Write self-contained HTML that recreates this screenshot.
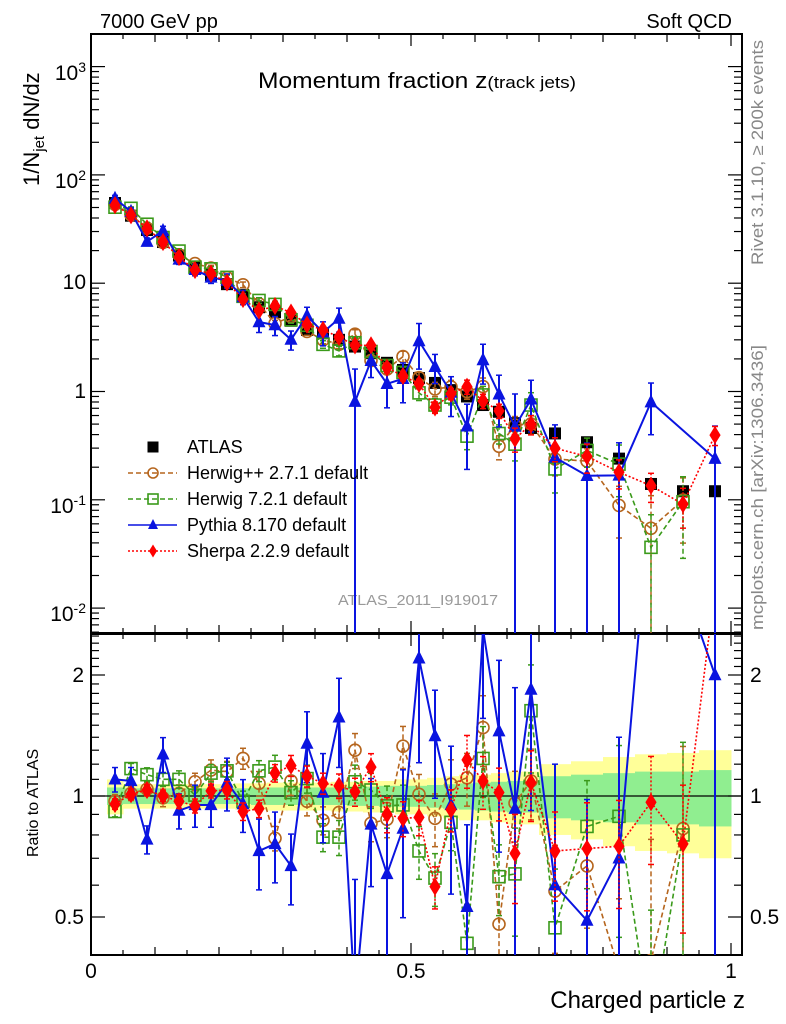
<!DOCTYPE html>
<html><head><meta charset="utf-8"><style>
html,body{margin:0;padding:0;background:#fff;overflow:hidden;width:786px;height:1024px;}
svg{display:block;font-family:"Liberation Sans",Arial,sans-serif;}
</style></head><body>
<svg id="chart" width="786" height="1024" viewBox="0 0 786 1024" xmlns="http://www.w3.org/2000/svg">
<defs>
<clipPath id="clipMain"><rect x="91" y="34" width="651" height="599"/></clipPath>
<clipPath id="clipRatio"><rect x="91" y="634" width="651" height="321"/></clipPath>
</defs>
<text x="100" y="28" font-size="20">7000 GeV pp</text>
<text x="732" y="28" font-size="20" text-anchor="end">Soft QCD</text>
<text x="258" y="88" font-size="22" textLength="318" lengthAdjust="spacingAndGlyphs">Momentum fraction z<tspan font-size="17">(track jets)</tspan></text>
<text x="338" y="605" font-size="15" fill="#999" textLength="160" lengthAdjust="spacingAndGlyphs">ATLAS_2011_I919017</text>
<text transform="translate(763,265) rotate(-90)" font-size="17" fill="#888" textLength="225" lengthAdjust="spacingAndGlyphs">Rivet 3.1.10, ≥ 200k events</text>
<text transform="translate(763,630) rotate(-90)" font-size="17" fill="#888" textLength="285" lengthAdjust="spacingAndGlyphs">mcplots.cern.ch [arXiv:1306.3436]</text>
<text transform="translate(39,186) rotate(-90)" font-size="22">1/N<tspan font-size="15" dy="5">jet</tspan><tspan dy="-5"> dN/dz</tspan></text>
<text transform="translate(38,857) rotate(-90)" font-size="16">Ratio to ATLAS</text>
<text x="745" y="1008" font-size="24" text-anchor="end">Charged particle z</text>
<g id="layer"></g>
</svg>
<script>
// ---- data ----
const zCenters=[0.0375,0.0625,0.0875,0.1125,0.1375,0.1625,0.1875,0.2125,0.2375,0.2625,0.2875,0.3125,0.3375,0.3625,0.3875,0.4125,0.4375,0.4625,0.4875,0.5125,0.5375,0.5625,0.5875,0.6125,0.6375,0.6625,0.6875,0.725,0.775,0.825,0.875,0.925,0.975];
const binHalf=[0.0125,0.0125,0.0125,0.0125,0.0125,0.0125,0.0125,0.0125,0.0125,0.0125,0.0125,0.0125,0.0125,0.0125,0.0125,0.0125,0.0125,0.0125,0.0125,0.0125,0.0125,0.0125,0.0125,0.0125,0.0125,0.0125,0.0125,0.025,0.025,0.025,0.025,0.025,0.025];
const atlasVals=[55,42,31,24,18,14,11.9,9.8,7.8,6.0,5.4,4.5,3.7,3.45,3.0,2.6,2.26,1.84,1.58,1.33,1.2,1.03,0.9,0.75,0.65,0.51,0.46,0.41,0.34,0.24,0.14,0.12,0.12];
const bandStat=[0.05,0.045,0.045,0.045,0.045,0.045,0.045,0.045,0.045,0.05,0.05,0.05,0.05,0.05,0.05,0.055,0.055,0.06,0.06,0.06,0.065,0.07,0.075,0.08,0.085,0.09,0.09,0.12,0.13,0.14,0.15,0.15,0.16];
const bandTot=[0.1,0.07,0.07,0.07,0.07,0.07,0.07,0.07,0.075,0.075,0.08,0.08,0.08,0.08,0.085,0.085,0.09,0.09,0.1,0.1,0.11,0.12,0.13,0.13,0.14,0.15,0.15,0.2,0.22,0.25,0.27,0.28,0.3];
const herwigppRatio=[0.97,1.015,1.04,0.99,1.015,1.085,1.16,1.15,1.24,1.075,0.785,1.09,0.97,0.87,0.91,1.30,0.855,0.875,1.33,1.01,0.88,1.07,1.11,1.48,0.48,0.96,1.09,0.58,0.67,0.37,0.39,0.83,null];
const herwigppErr=[0.04,0.04,0.04,0.05,0.05,0.05,0.06,0.06,0.06,0.07,0.07,0.08,0.08,0.08,0.09,0.1,0.1,0.1,0.12,0.12,0.15,0.15,0.15,0.2,0.25,0.2,0.2,0.3,0.3,0.5,1,0.6,0];
const herwig7Ratio=[0.915,1.17,1.13,1.10,1.10,1.005,1.14,1.155,0.97,1.155,1.18,1.02,1.105,0.79,0.79,1.085,1.035,0.945,0.95,0.73,0.625,0.86,0.43,1.24,0.63,0.64,1.63,0.47,0.84,0.89,0.26,0.80,null];
const herwig7Err=[0.03,0.03,0.04,0.04,0.05,0.05,0.05,0.05,0.06,0.06,0.07,0.07,0.08,0.08,0.1,0.1,0.1,0.12,0.12,0.15,0.15,0.15,0.25,0.2,0.2,0.3,0.3,0.4,0.3,0.5,1,0.7,0];
const pythiaRatio=[1.10,1.09,0.78,1.27,0.92,0.95,0.95,1.08,0.955,0.73,0.76,0.67,1.35,1.02,1.57,0.31,0.85,0.64,0.83,2.2,1.41,0.95,0.53,2.6,1.45,0.93,1.84,0.6,0.49,0.7,5.7,null,2.0];
const pythiaErr=[0.07,0.08,0.08,0.1,0.1,0.12,0.12,0.15,0.15,0.2,0.2,0.2,0.2,0.25,0.25,1,0.3,0.4,0.4,0.45,0.3,0.4,0.6,0.4,0.5,1,0.5,1,1,1,0.5,0,1];
const sherpaRatio=[0.955,1.01,1.035,1.0,0.97,0.945,1.03,1.035,0.915,0.93,1.14,1.19,1.12,1.075,1.06,1.025,1.18,0.9,0.88,0.885,0.595,0.925,1.23,1.09,1.02,0.72,1.08,0.73,0.74,0.75,0.965,0.76,3.3];
const sherpaErr=[0.03,0.03,0.03,0.03,0.04,0.04,0.04,0.05,0.05,0.05,0.05,0.06,0.06,0.06,0.07,0.08,0.08,0.1,0.1,0.1,0.12,0.12,0.15,0.15,0.15,0.25,0.2,0.25,0.3,0.3,0.3,0.4,0.2];
const xTickMajor=[0,0.5,1];
const xTickLabels=["0","0.5","1"];
const yDecades=[0.01,0.1,1,10,100,1000];
const yDecadeLabels=["10<sup>-2</sup>","10<sup>-1</sup>","1","10","10<sup>2</sup>","10<sup>3</sup>"];
const ratioTickLabels=[0.5,1,2];

const NS="http://www.w3.org/2000/svg";
const layer=document.getElementById('layer');
function xs(z){return 91+640*z;}
function ym(v){return 391.5-108.3*Math.log10(v);}
function yr(r){return 796-121*Math.log2(r);}
function clampY(y,panel){return panel==='main'?Math.max(30,Math.min(636,y)):Math.max(630,Math.min(958,y));}
function el(tag,attrs,parent){const e=document.createElementNS(NS,tag);for(const k in attrs)e.setAttribute(k,attrs[k]);(parent||layer).appendChild(e);return e;}

const bands=el('g',{});


zCenters.forEach((z,i)=>{
  const x0=xs(z-binHalf[i]),x1=xs(z+binHalf[i]);
  const r=el('rect',{x:x0,y:yr(1+bandTot[i]),width:x1-x0+0.5,height:yr(1-bandTot[i])-yr(1+bandTot[i]),fill:'#ffff99'},bands);
  
  
  const g=el('rect',{x:x0,y:yr(1+bandStat[i]),width:x1-x0+0.5,height:yr(1-bandStat[i])-yr(1+bandStat[i]),fill:'#90ee90'},bands);
  
  
});
const one=el('line',{x1:91,x2:742,y1:yr(1),y2:yr(1),stroke:'#000','stroke-width':1.2});



const fm=el('rect',{x:91,y:34,width:651,height:599,fill:'none',stroke:'#000','stroke-width':2});


const fr=el('rect',{x:91,y:634,width:651,height:321,fill:'none',stroke:'#000','stroke-width':2});



const ticks=el('g',{stroke:'#000','stroke-width':1.2});


for(let k=0;k<=20;k++){
  const z=k*0.05,x=xs(z);
  const len=(k%10===0)?12:(k%2===0?8:5);
  [34,634].forEach(y=>el('line',{x1:x,x2:x,y1:y,y2:y+len},ticks));
  [633,955].forEach(y=>el('line',{x1:x,x2:x,y1:y,y2:y-len},ticks));
}
xTickMajor.forEach((z,i)=>{
  const t=el('text',{x:xs(z),y:978,'font-size':21,'text-anchor':'middle'});
  t.textContent=xTickLabels[i];
  
  
});
for(let d=-3;d<=3;d++){
  for(let m=1;m<=9;m++){
    const v=m*Math.pow(10,d),y=ym(v);
    if(y<34||y>633)continue;
    const len=m===1?14:8;
    el('line',{x1:91,x2:91+len,y1:y,y2:y},ticks);
    el('line',{x1:742,x2:742-len,y1:y,y2:y},ticks);
  }
}
yDecades.forEach((v,i)=>{
  const t=el('foreignObject',{x:20,y:ym(v)-14,width:66,height:28});
  
  
  t.innerHTML='<div xmlns="http://www.w3.org/1999/xhtml" style="font:21px Liberation Sans,sans-serif;text-align:right;line-height:28px">'+yDecadeLabels[i].replace(/<sup>/g,'<sup style="font-size:14px">')+'</div>';
});
for(let k=4;k<=25;k++){
  const r=k/10,y=yr(r);
  if(y<634||y>955)continue;
  const len=(r===0.5||r===1||r===2)?14:8;
  el('line',{x1:91,x2:91+len,y1:y,y2:y},ticks);
  el('line',{x1:742,x2:742-len,y1:y,y2:y},ticks);
}
ratioTickLabels.forEach(r=>{
  const t=el('text',{x:84,y:yr(r)+7,'font-size':21,'text-anchor':'end'});
  t.textContent=String(r);
  
  
  const t2=el('text',{x:750,y:yr(r)+7,'font-size':21});
  t2.textContent=String(r);
  
  
});

function marker(type,x,y,c,s,parent){
  let m;
  if(type==='square')m=el('rect',{x:x-s/2,y:y-s/2,width:s,height:s,fill:c},parent);
  else if(type==='osquare')m=el('rect',{x:x-s/2,y:y-s/2,width:s,height:s,fill:'none',stroke:c,'stroke-width':1.6},parent);
  else if(type==='circle')m=el('circle',{cx:x,cy:y,r:s/2,fill:'none',stroke:c,'stroke-width':1.6},parent);
  else if(type==='tri')m=el('polygon',{points:`${x},${y-s*0.6} ${x-s/2},${y+s*0.4} ${x+s/2},${y+s*0.4}`,fill:c},parent);
  else m=el('polygon',{points:`${x},${y-s*0.65} ${x-s*0.4},${y} ${x},${y+s*0.65} ${x+s*0.4},${y}`,fill:c},parent);
  return m;
}

const series=[
 {name:'herwigpp',ratio:herwigppRatio,err:herwigppErr,color:'#b5651d',dash:'5,3',m:'circle',s:12},
 {name:'herwig7',ratio:herwig7Ratio,err:herwig7Err,color:'#3a9a1a',dash:'5,3',m:'osquare',s:12},
 {name:'pythia',ratio:pythiaRatio,err:pythiaErr,color:'#0a14e0',dash:'',m:'tri',s:13},
 {name:'sherpa',ratio:sherpaRatio,err:sherpaErr,color:'#ff0000',dash:'2,2',m:'diamond',s:14}
];

const atlasG=el('g',{'clip-path':'url(#clipMain)'});


atlasVals.forEach((v,i)=>{
  const p=marker('square',xs(zCenters[i]),ym(v),'#000',12,atlasG);
  
  
});

series.forEach(S=>{
  [['main',ym,'url(#clipMain)',i=>atlasVals[i]*S.ratio[i]],['ratio',yr,'url(#clipRatio)',i=>S.ratio[i]]].forEach(([panel,yf,clip,val])=>{
    const g=el('g',{'clip-path':clip});
    
    
    let pts=[];
    zCenters.forEach((z,i)=>{ if(S.ratio[i]!==null)pts.push([xs(z),yf(val(i))]); });
    const pl=el('polyline',{points:pts.map(p=>p.join(',')).join(' '),fill:'none',stroke:S.color,'stroke-width':S.name==='pythia'?2:1.6,'stroke-dasharray':S.dash},g);
    
    
    zCenters.forEach((z,i)=>{
      if(S.ratio[i]===null)return;
      const v=val(i),e=S.err[i],x=xs(z);
      if(e>0){
        const hi=clampY(yf(v*(1+e)),panel);
        const lo=(1-e)>0.01?clampY(yf(v*(1-e)),panel):clampY(5000,panel);
        const eb=el('line',{x1:x,x2:x,y1:hi,y2:lo,stroke:S.color,'stroke-width':S.name==='pythia'?2:1.5,'stroke-dasharray':S.dash},g);
        
        
        el('line',{x1:x-3,x2:x+3,y1:hi,y2:hi,stroke:S.color,'stroke-width':1.5},g);
        el('line',{x1:x-3,x2:x+3,y1:lo,y2:lo,stroke:S.color,'stroke-width':1.5},g);
      }
      const mk=marker(S.m,x,yf(v),S.color,S.s,g);
      
      
    });
  });
});

const legendItems=[
 {label:'ATLAS',m:'square',color:'#000',dash:null},
 {label:'Herwig++ 2.7.1 default',m:'circle',color:'#b5651d',dash:'5,3'},
 {label:'Herwig 7.2.1 default',m:'osquare',color:'#3a9a1a',dash:'5,3'},
 {label:'Pythia 8.170 default',m:'tri',color:'#0a14e0',dash:''},
 {label:'Sherpa 2.2.9 default',m:'diamond',color:'#ff0000',dash:'2,2'}
];
const lg=el('g',{});


legendItems.forEach((it,i)=>{
  const y=447+26*i;
  const g=el('g',{},lg);
  
  
  if(it.dash!==null)el('line',{x1:128,x2:177,y1:y,y2:y,stroke:it.color,'stroke-width':1.5,'stroke-dasharray':it.dash},g);
  marker(it.m,153,y,it.color,it.m==='square'?11:10,g);
  const t=el('text',{x:187,y:y+6,'font-size':18},g);
  t.textContent=it.label;
});
</script>
</body></html>
